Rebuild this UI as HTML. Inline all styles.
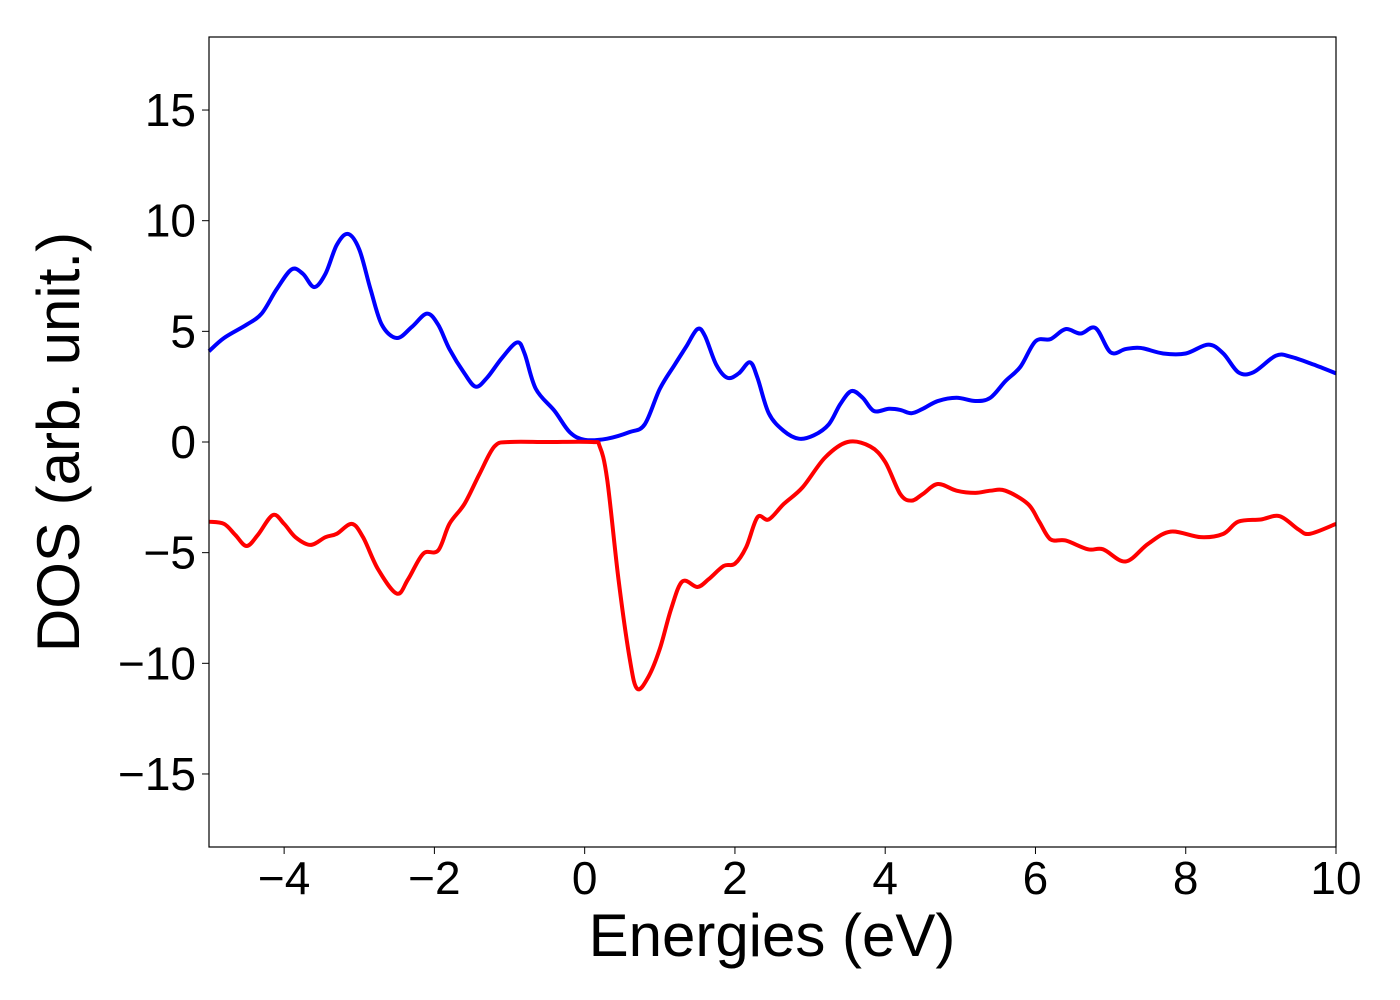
<!DOCTYPE html>
<html><head><meta charset="utf-8"><style>
html,body{margin:0;padding:0;background:#fff;}
svg{display:block;font-family:"Liberation Sans","DejaVu Sans",sans-serif;}
</style></head><body>
<svg id="chart" width="1400" height="1000" viewBox="0 0 1400 1000">
<g id="grid"></g>
<g id="series"></g>
<rect x="209" y="37" width="1127" height="810" fill="none" stroke="#000" stroke-width="1.2"/>
<g id="ticks"></g>
<text x="772" y="956" text-anchor="middle" font-size="60">Energies (eV)</text>
<text transform="translate(79,442) rotate(-90)" text-anchor="middle" font-size="60">DOS (arb. unit.)</text>
</svg>
<script>
const xTicks=[-4,-2,0,2,4,6,8,10];
const xTickLabels=["\u22124","\u22122","0","2","4","6","8","10"];
const yTicks=[-15,-10,-5,0,5,10,15];
const yTickLabels=["\u221215","\u221210","\u22125","0","5","10","15"];
const upX=[-5,-4.8,-4.5,-4.3,-4.1,-3.9,-3.75,-3.6,-3.45,-3.3,-3.15,-3.0,-2.85,-2.7,-2.5,-2.3,-2.1,-1.95,-1.8,-1.6,-1.45,-1.3,-1.1,-0.9,-0.8,-0.65,-0.4,-0.2,0,0.3,0.6,0.8,1.0,1.2,1.35,1.5,1.6,1.75,1.9,2.05,2.2,2.3,2.45,2.65,2.85,3.05,3.25,3.4,3.55,3.7,3.85,4.05,4.2,4.35,4.5,4.7,4.95,5.2,5.4,5.6,5.8,6.0,6.2,6.4,6.6,6.8,7.0,7.2,7.4,7.7,8.0,8.3,8.5,8.7,8.9,9.2,9.4,9.7,10];
const upY=[4.1,4.7,5.3,5.8,6.9,7.8,7.6,7.0,7.6,8.9,9.4,8.7,6.9,5.3,4.7,5.2,5.8,5.3,4.2,3.1,2.5,2.9,3.8,4.5,4.0,2.4,1.4,0.45,0.1,0.15,0.45,0.8,2.4,3.5,4.3,5.1,4.8,3.5,2.9,3.1,3.6,2.9,1.3,0.5,0.15,0.3,0.8,1.7,2.3,2.0,1.4,1.5,1.45,1.3,1.5,1.85,2.0,1.85,2.0,2.75,3.4,4.55,4.65,5.1,4.9,5.15,4.05,4.2,4.25,4.0,4.0,4.4,4.0,3.15,3.15,3.9,3.85,3.5,3.1];
const dnX=[-5,-4.8,-4.65,-4.5,-4.35,-4.15,-4.0,-3.85,-3.65,-3.45,-3.3,-3.1,-2.95,-2.75,-2.5,-2.35,-2.15,-1.95,-1.8,-1.6,-1.4,-1.2,-1.0,-0.5,0.1,0.2,0.3,0.45,0.6,0.7,0.85,1.0,1.15,1.3,1.5,1.65,1.85,2.0,2.15,2.3,2.45,2.65,2.9,3.2,3.5,3.8,4.0,4.2,4.35,4.5,4.7,4.95,5.2,5.4,5.6,5.9,6.05,6.2,6.4,6.7,6.9,7.2,7.5,7.8,8.2,8.5,8.7,9.0,9.25,9.5,9.65,10];
const dnY=[-3.6,-3.7,-4.2,-4.7,-4.2,-3.3,-3.7,-4.3,-4.65,-4.3,-4.15,-3.7,-4.3,-5.75,-6.85,-6.2,-5.05,-4.9,-3.7,-2.8,-1.45,-0.2,0,0,0,-0.2,-1.7,-6.2,-9.8,-11.15,-10.6,-9.35,-7.55,-6.3,-6.55,-6.2,-5.6,-5.5,-4.75,-3.4,-3.5,-2.8,-2.05,-0.7,0,-0.2,-0.9,-2.35,-2.65,-2.35,-1.9,-2.2,-2.3,-2.2,-2.2,-2.8,-3.6,-4.4,-4.45,-4.85,-4.85,-5.4,-4.6,-4.05,-4.3,-4.15,-3.6,-3.5,-3.35,-3.95,-4.15,-3.7];
const X0=209,X1=1336,Y0=847,Y1=37,xmin=-5,xmax=10,ymin=-18.3,ymax=18.3;
const sx=v=>X0+(v-xmin)/(xmax-xmin)*(X1-X0);
const sy=v=>Y0-(v-ymin)/(ymax-ymin)*(Y0-Y1);
const NS="http://www.w3.org/2000/svg";
function pathD(xs,ys){
  const p=xs.map((x,i)=>[sx(x),sy(ys[i])]);
  let d="M"+p[0][0]+","+p[0][1];
  for(let i=0;i<p.length-1;i++){
    const a=p[Math.max(i-1,0)],b=p[i],c=p[i+1],e=p[Math.min(i+2,p.length-1)];
    const c1=[b[0]+(c[0]-a[0])/6,b[1]+(c[1]-a[1])/6],c2=[c[0]-(e[0]-b[0])/6,c[1]-(e[1]-b[1])/6];
    d+=" C"+c1+" "+c2+" "+c;
  }
  return d;
}
const g=document.getElementById("series");
const up=document.createElementNS(NS,"path");
up.setAttribute("d",pathD(upX,upY));up.setAttribute("fill","none");up.setAttribute("stroke","#0000ff");up.setAttribute("stroke-width","4");


g.appendChild(up);
const dn=document.createElementNS(NS,"path");
dn.setAttribute("d",pathD(dnX,dnY));dn.setAttribute("fill","none");dn.setAttribute("stroke","#ff0000");dn.setAttribute("stroke-width","4");


g.appendChild(dn);
const t=document.getElementById("ticks");
xTicks.forEach((v,i)=>{
  const l=document.createElementNS(NS,"line");
  l.setAttribute("x1",sx(v));l.setAttribute("x2",sx(v));l.setAttribute("y1",847);l.setAttribute("y2",854);l.setAttribute("stroke","#000");
  
  
  t.appendChild(l);
  const tx=document.createElementNS(NS,"text");
  tx.setAttribute("x",sx(v));tx.setAttribute("y",894);tx.setAttribute("text-anchor","middle");tx.setAttribute("font-size","46");
  tx.textContent=xTickLabels[i];
  
  
  t.appendChild(tx);
});
yTicks.forEach((v,i)=>{
  const l=document.createElementNS(NS,"line");
  l.setAttribute("x1",202);l.setAttribute("x2",209);l.setAttribute("y1",sy(v));l.setAttribute("y2",sy(v));l.setAttribute("stroke","#000");
  
  
  t.appendChild(l);
  const tx=document.createElementNS(NS,"text");
  tx.setAttribute("x",196);tx.setAttribute("y",sy(v)+16);tx.setAttribute("text-anchor","end");tx.setAttribute("font-size","46");
  tx.textContent=yTickLabels[i];
  
  
  t.appendChild(tx);
});
</script>
</body></html>
